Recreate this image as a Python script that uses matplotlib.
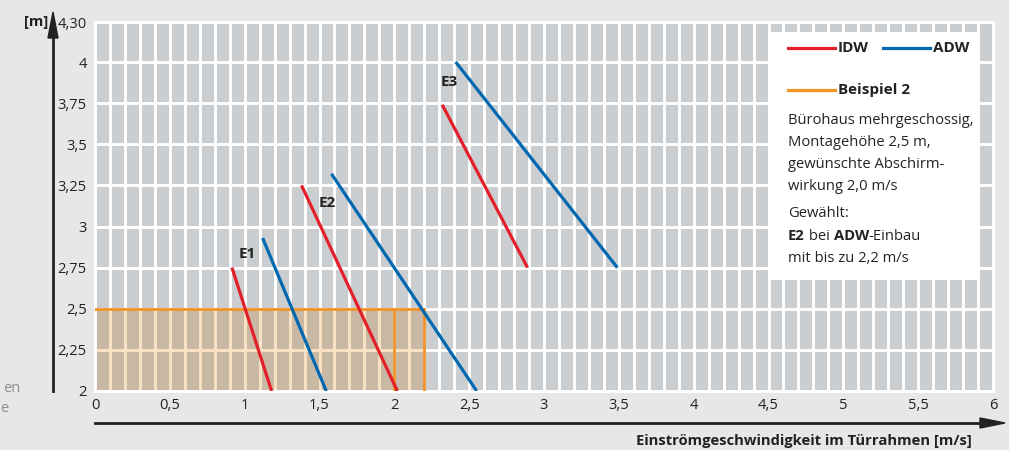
import matplotlib
matplotlib.use("Agg")
import matplotlib.pyplot as plt
from matplotlib.patches import Rectangle
import numpy as np

plt.rcParams['font.family'] = ['Open Sans', 'DejaVu Sans']

# ---------------- data ----------------
x_ticks = [0, 0.5, 1, 1.5, 2, 2.5, 3, 3.5, 4, 4.5, 5, 5.5, 6]
x_tick_labels = ["0", "0,5", "1", "1,5", "2", "2,5", "3", "3,5", "4", "4,5", "5", "5,5", "6"]
y_ticks = [2, 2.25, 2.5, 2.75, 3, 3.25, 3.5, 3.75, 4]
y_tick_labels = ["2", "2,25", "2,5", "2,75", "3", "3,25", "3,5", "3,75", "4"]
y_top_label = "4,30"

series_names = ["E1", "E2", "E3"]
idw_x = [[0.915, 1.18], [1.38, 2.02], [2.32, 2.89]]
idw_y = [[2.75, 2.0], [3.25, 2.0], [3.74, 2.75]]
adw_x = [[1.12, 1.545], [1.58, 2.55], [2.41, 3.49]]
adw_y = [[2.93, 2.0], [3.32, 2.0], [4.0, 2.75]]
label_pos = [(1.02, 2.83), (1.55, 3.14), (2.37, 3.88)]

example_height = 2.5
example_speed = 2.2
example_speed_idw = 2.0

legend_lines = ["Bürohaus mehrgeschossig,", "Montagehöhe 2,5 m,",
                "gewünschte Abschirm-", "wirkung 2,0 m/s"]

# ---------------- style ----------------
BG = "#E6E7E9"
CELL = "#CBCED1"
TAN = "#C9B8A3"
PEACH = "#FBE2C5"
RED = "#E3202A"
BLUE = "#0068B1"
ORANGE = "#F39325"
DARK = "#222222"
FS = 10.6
FSB = 11

W, H = 1009, 450
fig = plt.figure(figsize=(W / 100, H / 100), dpi=100, facecolor=BG)

def fx(px):
    return px / W

def fy(py):
    return 1 - py / H

ax_l, ax_r, ax_t, ax_b = 95, 993, 22, 391
ax = fig.add_axes([fx(ax_l), fy(ax_b), fx(ax_r - ax_l), (ax_b - ax_t) / H])
ax.set_facecolor(CELL)
xmin, xmax = 0, 6
ymin = 2
ymax = 2 + (ax_b - ax_t) / 164.5
ax.set_xlim(xmin, xmax)
ax.set_ylim(ymin, ymax)

GLW = 2.1
# grid
for xv in np.arange(0.1, 6.0, 0.1):
    ax.axvline(xv, color="white", lw=GLW, zorder=1)
for yv in y_ticks[1:]:
    ax.axhline(yv, color="white", lw=GLW, zorder=1)
for s in ax.spines.values():
    s.set_color("white")
    s.set_linewidth(GLW)

# example shaded region
ax.add_patch(Rectangle((0, ymin), example_speed, example_height - ymin,
                       facecolor=TAN, edgecolor="none", zorder=2))
for xv in np.arange(0.1, example_speed - 0.01, 0.1):
    ax.plot([xv, xv], [ymin, example_height], color=PEACH, lw=GLW, zorder=2.5)
ax.plot([0, example_speed], [2.25, 2.25], color=PEACH, lw=GLW, zorder=2.5)
ax.plot([0, example_speed], [example_height, example_height], color=ORANGE, lw=2.0, zorder=3)
ax.plot([example_speed, example_speed], [ymin, example_height], color=ORANGE, lw=2.0, zorder=3)
ax.plot([example_speed_idw, example_speed_idw], [ymin, example_height], color=ORANGE, lw=2.0, zorder=3)

# curves
for i, name in enumerate(series_names):
    ax.plot(idw_x[i], idw_y[i], color=RED, lw=2.3, zorder=4, solid_capstyle="butt")
    ax.plot(adw_x[i], adw_y[i], color=BLUE, lw=2.3, zorder=4, solid_capstyle="butt")
    ax.text(label_pos[i][0], label_pos[i][1], name, fontsize=FSB, fontweight="bold",
            color=DARK, ha="center", va="center", zorder=5)

# ticks
ax.set_xticks(x_ticks)
ax.set_xticklabels(x_tick_labels)
ax.set_yticks(y_ticks + [ymax])
ax.set_yticklabels(y_tick_labels + [y_top_label])
ax.tick_params(axis="both", length=0, labelsize=FS, colors=DARK)
ax.tick_params(axis="x", pad=5)
ax.tick_params(axis="y", pad=6)

# legend box
bx0, bx1, by0, by1 = 768, 978, 32, 280
fig.patches.append(Rectangle((fx(bx0), fy(by1)), fx(bx1 - bx0), (by1 - by0) / H,
                             transform=fig.transFigure, facecolor="white",
                             edgecolor="none", zorder=10))

def legline(x0, x1, y, c):
    fig.add_artist(plt.Line2D([fx(x0), fx(x1)], [fy(y), fy(y)], color=c, lw=2.3,
                              transform=fig.transFigure, zorder=11))

legline(788, 835, 48, RED)
fig.text(fx(838), fy(48), "IDW", fontsize=FSB, fontweight="bold", color=DARK,
         va="center", ha="left", zorder=12)
legline(883, 930, 48, BLUE)
fig.text(fx(933), fy(48), "ADW", fontsize=FSB, fontweight="bold", color=DARK,
         va="center", ha="left", zorder=12)
legline(788, 835, 90, ORANGE)
fig.text(fx(838), fy(90), "Beispiel 2", fontsize=FSB, fontweight="bold", color=DARK,
         va="center", ha="left", zorder=12)

ys = [120, 142, 165, 186]
for t, yy in zip(legend_lines, ys):
    fig.text(fx(788), fy(yy), t, fontsize=FS, color=DARK, va="center", ha="left", zorder=12)
fig.text(fx(788), fy(213), "Gewählt:", fontsize=FS, color=DARK, va="center", ha="left", zorder=12)

# mixed bold line
t1 = fig.text(fx(788), fy(236), "E2", fontsize=FS, fontweight="bold", color=DARK,
              va="center", ha="left", zorder=12)
fig.canvas.draw()
r = fig.canvas.get_renderer()
def right_px(t):
    return t.get_window_extent(r).x1
x = right_px(t1)
t2 = fig.text(x / W, fy(236), " bei ", fontsize=FS, color=DARK, va="center", ha="left", zorder=12)
x = right_px(t2)
t3 = fig.text(x / W, fy(236), "ADW", fontsize=FS, fontweight="bold", color=DARK,
              va="center", ha="left", zorder=12)
x = right_px(t3)
fig.text(x / W, fy(236), "-Einbau", fontsize=FS, color=DARK, va="center", ha="left", zorder=12)
fig.text(fx(788), fy(258), "mit bis zu 2,2 m/s", fontsize=FS, color=DARK, va="center", ha="left", zorder=12)

# axis arrows
fig.add_artist(plt.Line2D([fx(53), fx(53)], [fy(391), fy(30)], color=DARK, lw=2.0,
                          transform=fig.transFigure))
fig.add_artist(plt.Polygon([[fx(53), fy(12)], [fx(48), fy(38)], [fx(58), fy(38)]],
                           closed=True, color=DARK, transform=fig.transFigure))
fig.add_artist(plt.Line2D([fx(95), fx(985)], [fy(423), fy(423)], color=DARK, lw=2.0,
                          transform=fig.transFigure))
fig.add_artist(plt.Polygon([[fx(1005), fy(423)], [fx(980), fy(418)], [fx(980), fy(428)]],
                           closed=True, color=DARK, transform=fig.transFigure))

fig.text(fx(36), fy(22), "[m]", fontsize=FS, fontweight="bold", color=DARK,
         ha="center", va="center")
fig.text(fx(972), fy(441), "Einströmgeschwindigkeit im Türrahmen [m/s]", fontsize=FS,
         fontweight="bold", color=DARK, ha="right", va="center")

# cut-off fragments at left edge
fig.text(fx(21), fy(388), "en", fontsize=FS, color="#8C8E90", ha="right", va="center")
fig.text(fx(8), fy(409), "e", fontsize=FS, color="#8C8E90", ha="right", va="center")

fig.savefig("out.png", dpi=100, facecolor=BG)
